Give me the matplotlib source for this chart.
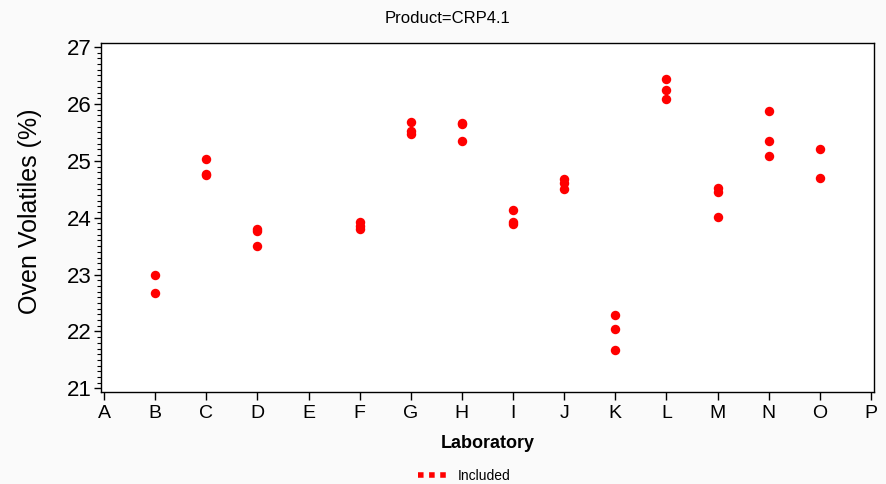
import matplotlib
matplotlib.use("Agg")
import matplotlib.pyplot as plt
from matplotlib.lines import Line2D
from matplotlib.ticker import MultipleLocator

plt.rcParams['font.family'] = ['Liberation Sans', 'DejaVu Sans']

categories = list("ABCDEFGHIJKLMNOP")
lab_points = ["B", "B",
              "C", "C", "C",
              "D", "D", "D",
              "F", "F", "F",
              "G", "G", "G",
              "H", "H", "H",
              "I", "I", "I",
              "J", "J", "J",
              "K", "K", "K",
              "L", "L", "L",
              "M", "M", "M",
              "N", "N", "N",
              "O", "O"]
oven_volatiles = [23.00, 22.68,
                  25.03, 24.76, 24.75,
                  23.80, 23.77, 23.50,
                  23.93, 23.86, 23.80,
                  25.68, 25.52, 25.47,
                  25.67, 25.65, 25.34,
                  24.13, 23.93, 23.89,
                  24.68, 24.61, 24.50,
                  22.29, 22.05, 21.68,
                  26.43, 26.24, 26.09,
                  24.52, 24.45, 24.01,
                  25.87, 25.34, 25.08,
                  25.21, 24.70]

fig = plt.figure(figsize=(8.86, 4.84), dpi=100, facecolor='#fafafa')
ax = fig.add_axes([0.114, 0.19, 0.873, 0.721])
ax.set_facecolor('white')

xpos = [categories.index(c) for c in lab_points]
ax.plot(xpos, oven_volatiles, linestyle='none', marker='o', markersize=6.8,
        color='#ff0000', markeredgewidth=0)

ax.set_xlim(-0.06, 15.07)
ax.set_ylim(20.935, 27.07)
ax.set_xticks(range(len(categories)))
ax.set_xticklabels(categories, fontsize=14)
ax.yaxis.set_major_locator(MultipleLocator(1))
ax.yaxis.set_minor_locator(MultipleLocator(0.1))
ax.tick_params(axis='y', labelsize=16, length=5, width=1, pad=2)
ax.tick_params(axis='y', which='minor', length=3, width=0.8)
ax.tick_params(axis='x', length=6, width=1, pad=3)
for s in ax.spines.values():
    s.set_linewidth(1.0)
    s.set_color('black')

ax.set_ylabel('Oven Volatiles (%)', fontsize=18)
ax.yaxis.set_label_coords(-0.076, 0.517)
ax.set_xlabel('Laboratory', fontsize=13, fontweight='bold', labelpad=10)
fig.text(0.505, 0.962, 'Product=CRP4.1', ha='center', va='center', fontsize=12)

h = Line2D([], [], color='#ff0000', linestyle=(0, (1, 1)), linewidth=4)
fig.legend(handles=[h], labels=['Included'], loc='center', bbox_to_anchor=(0.524, 0.017),
           frameon=False, fontsize=10, handlelength=2.0, handletextpad=0.8)

fig.savefig('out.png', dpi=100, facecolor=fig.get_facecolor())
